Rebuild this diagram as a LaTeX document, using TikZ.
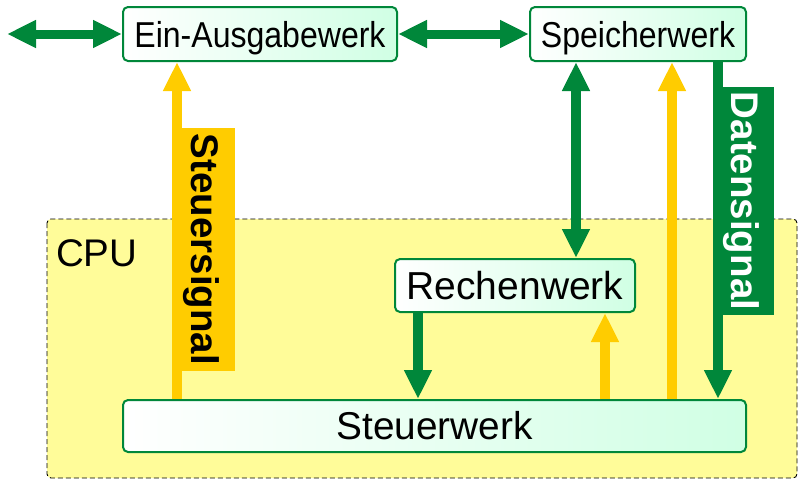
\documentclass[tikz,border=0pt]{standalone}
\usepackage{fontspec}
\setmainfont{Liberation Sans}
\usetikzlibrary{arrows.meta}
\definecolor{grn}{RGB}{0,135,58}
\definecolor{ylw}{RGB}{255,204,0}
\definecolor{cpufill}{RGB}{255,252,153}
\definecolor{mint}{RGB}{208,255,228}
\begin{document}
\begin{tikzpicture}[x=1pt,y=-1pt,
  >={Triangle[length=29pt,width=26pt]},
  box/.style={draw=grn, line width=2pt, rounded corners=5pt, left color=white, right color=mint,
    inner sep=0pt, text depth=0pt},
  garrow/.style={draw=grn, line width=10pt},
  yarrow/.style={draw=ylw, line width=10pt},
  siglabel/.style={rotate=-90, inner sep=0pt, text height=27.8pt, text depth=4pt, font=\fontsize{38.5}{40}\selectfont\bfseries}
]
\useasboundingbox (0,0) rectangle (798,479);
% CPU region
\draw[fill=cpufill, dash pattern=on 5pt off 3pt, line width=0.9pt, rounded corners=4pt] (47,219) rectangle (797,478);
\node[anchor=base west, inner sep=0pt, font=\fontsize{38.5}{40}\selectfont] (cpu) at (56,266) {CPU};

% boxes
\node[box, minimum width=274pt, minimum height=54pt, text height=26pt] (eab) at (260,34)
  {\fontsize{36}{40}\selectfont\scalebox{0.89}[1]{Ein-Ausgabewerk}};
\node[box, minimum width=216pt, minimum height=54pt, text height=26pt] (spw) at (638,34)
  {\fontsize{36}{40}\selectfont\scalebox{0.89}[1]{Speicherwerk}};
\node[box, minimum width=240pt, minimum height=53pt, text height=27.5pt, font=\fontsize{39}{40}\selectfont] (rw) at (515,285.5) {Rechenwerk};
\node[box, minimum width=623pt, minimum height=52pt, text height=27.5pt, font=\fontsize{38.8}{40}\selectfont] (stw) at (434.5,426) {Steuerwerk};

% x positions
\coordinate (xl) at (7,34);
\coordinate (xs) at (177,0);
\coordinate (xa) at (418,0);
\coordinate (xm) at (576,0);
\coordinate (xy) at (605,0);
\coordinate (xp) at (672,0);
\coordinate (xd) at (718,0);

% connectors
\draw[garrow, line width=9pt, <->] (xl) -- (eab.west);
\draw[garrow, line width=9pt, <->] (eab.east) -- (spw.west);
\draw[garrow, <->] (spw.south -| xm) -- (rw.north -| xm);
\draw[garrow, ->] (rw.south -| xa) -- (stw.north -| xa);
\draw[yarrow, ->] (stw.north -| xy) -- (rw.south -| xy);
\draw[yarrow, ->] (stw.north -| xp) -- (spw.south -| xp);
\draw[yarrow, ->] (stw.north -| xs) -- (eab.south -| xs);
\draw[garrow, ->] (spw.south -| xd) -- (stw.north -| xd);

% signal labels
\node[siglabel, fill=ylw, minimum width=243pt, minimum height=63pt, text=black] (ssig) at (203.5,249.5) {Steuersignal};
\node[siglabel, fill=grn, minimum width=228pt, minimum height=61pt, text=white] (dsig) at (743.5,201) {Datensignal};
\end{tikzpicture}
\end{document}
